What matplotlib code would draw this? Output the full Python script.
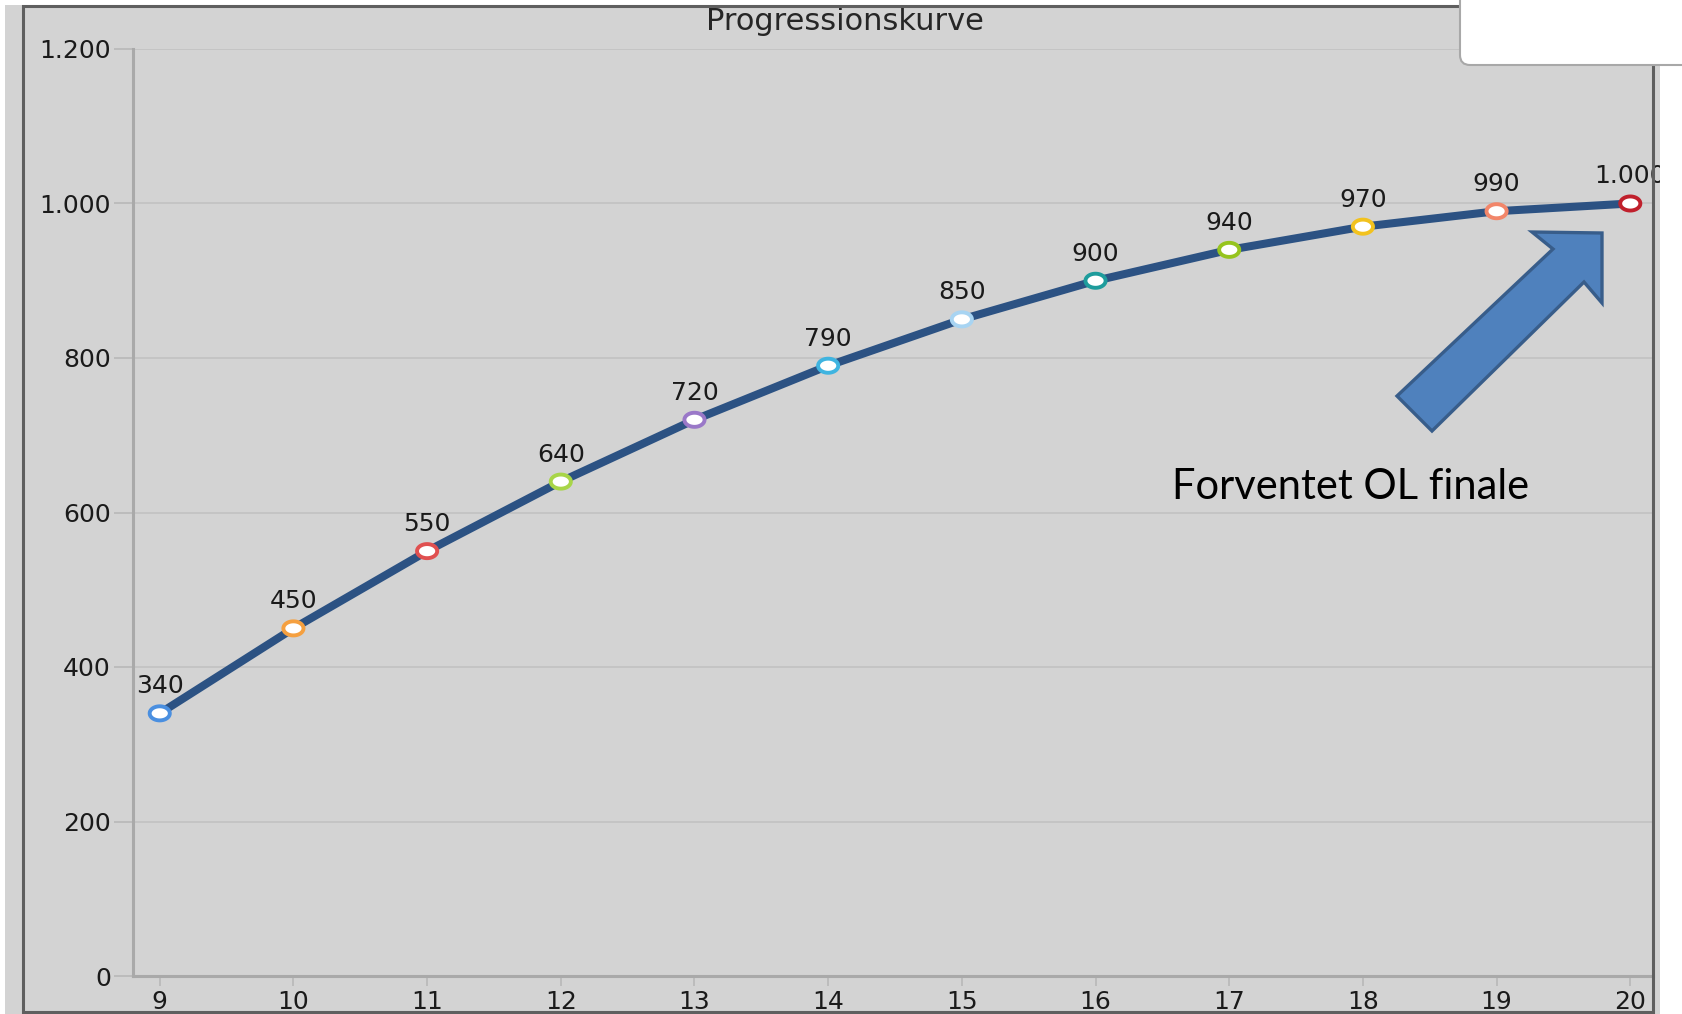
"""
Progressionskurve: expected points by age, with the OL-finale arrow.
"""

import numpy as np
import matplotlib.pyplot as plt
from matplotlib.path import Path
from matplotlib.patches import Rectangle, Polygon, FancyBboxPatch
from matplotlib.transforms import IdentityTransform

# Data
ages = [9, 10, 11, 12, 13, 14, 15, 16, 17, 18, 19, 20]
points = [340, 450, 550, 640, 720, 790, 850, 900, 940, 970, 990, 1000]
marker_colors = ["#4a8fe0", "#f5a040", "#e05050", "#a8d548", "#9a78c8", "#3fb4e0",
                 "#a8d4f2", "#1e9c9c", "#96c41e", "#f2c21e", "#f2866a", "#c0202c"]
y_ticks = [0, 200, 400, 600, 800, 1000, 1200]
title = "Progressionskurve"
note = "Forventet OL finale"

W, H = 1682, 1014
plt.rcParams["font.family"] = "DejaVu Sans"

fig = plt.figure(figsize=(W / 100, H / 100), dpi=100)
fig.patch.set_facecolor("white")


def pix(x, y):
    # pixel coords measured from the top-left -> display coords
    return (x, H - y)


# grey chart background
fig.add_artist(Rectangle(pix(5, H), 1655, H - 5, transform=IdentityTransform(),
                         facecolor="#d3d3d3", edgecolor="none", zorder=-10))

ax = fig.add_axes([133 / W, 1 - 976 / H, (1653 - 133) / W, (976 - 49) / H])
ax.set_facecolor("#d3d3d3")
ax.set_xlim(8.8, 20.17)
ax.set_ylim(0, 1200)

for s in ["top", "right"]:
    ax.spines[s].set_visible(False)
for s in ["left", "bottom"]:
    ax.spines[s].set_color("#a9a9a9")
    ax.spines[s].set_linewidth(2.2)

ax.set_xticks(ages)
ax.set_xticklabels([str(a) for a in ages])
ax.set_yticks(y_ticks)
ax.set_yticklabels([f"{v:,}".replace(",", ".") for v in y_ticks])
ax.tick_params(axis="y", length=14, width=1.2, color="#b8b8b8", pad=2,
               labelsize=18, labelcolor="#1a1a1a")
ax.tick_params(axis="x", length=7, width=1.2, color="#b8b8b8", pad=3,
               labelsize=18, labelcolor="#1a1a1a")
ax.yaxis.grid(True, color="#c2c2c2", linewidth=1.2)
ax.set_axisbelow(True)

# line + ellipse markers (the screenshot is stretched sideways)
t = np.linspace(0, 2 * np.pi, 60)
ellipse = Path(np.column_stack([1.43 * np.cos(t), np.sin(t)]), closed=True)

ax.plot(ages, points, color="#2c5283", linewidth=5.8, zorder=3,
        solid_capstyle="round")
ax.scatter(ages, points, marker=ellipse, s=14.5 ** 2, facecolors="white",
           edgecolors=marker_colors, linewidths=2.8, zorder=4)

for a, p in zip(ages, points):
    ax.annotate(f"{p:,}".replace(",", "."), (a, p), xytext=(0, 27),
                textcoords="offset pixels", ha="center", va="center",
                fontsize=18, color="#1a1a1a", zorder=5)

fig.text(845 / W, 1 - 22 / H, title, ha="center", va="center",
         fontsize=22, color="#262626")

# outer frame
fig.add_artist(Rectangle(pix(23, 1012), 1630, 1006, transform=IdentityTransform(),
                         fill=False, edgecolor="#5f5f5f", linewidth=2.2, zorder=20))

# white area on the right and the white box top right
fig.add_artist(Rectangle(pix(1660, H), 30, H, transform=IdentityTransform(),
                         facecolor="white", edgecolor="none", zorder=21))
fig.add_artist(FancyBboxPatch(pix(1460, 65), 260, 90,
                              boxstyle="round,pad=0,rounding_size=10",
                              transform=IdentityTransform(), facecolor="white",
                              edgecolor="#a8a8a8", linewidth=1.5, zorder=22))

# block arrow + note
arrow_px = [(1397, 396), (1553, 249), (1532, 232), (1602, 233),
            (1602, 303), (1584, 282), (1432, 431)]
fig.add_artist(Polygon([pix(x, y) for x, y in arrow_px], closed=True,
                       transform=IdentityTransform(), facecolor="#4f81bd",
                       edgecolor="#385d8a", linewidth=2.4, zorder=23))
fig.text(1172 / W, 1 - 499 / H, note, ha="left", va="baseline",
         fontsize=30, family="Lato", color="black", zorder=23)

plt.savefig("out.png", dpi=100)
